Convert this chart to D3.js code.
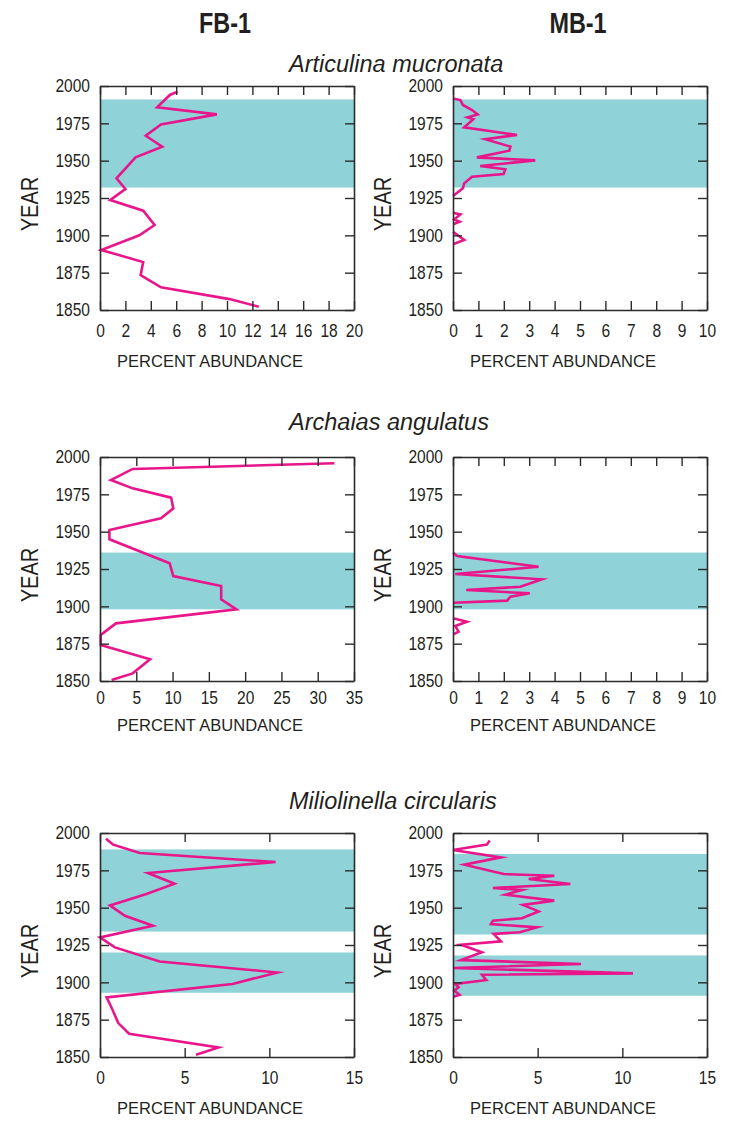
<!DOCTYPE html>
<html>
<head>
<meta charset="utf-8">
<script src="https://cdn.jsdelivr.net/npm/d3@7"></script>
<style>
  html, body { margin: 0; padding: 0; background: #fff; }
  svg { display: block; }
  .tick text { font-family: "Liberation Sans", Arial, sans-serif; font-size: 18.5px; fill: #231f20; }
</style>
</head>
<body>
<svg id="chart" width="729" height="1121"></svg>
<script>
// ---------------- DATA ----------------
const columnTitles = ["FB-1", "MB-1"];
const speciesNames = ["Articulina mucronata", "Archaias angulatus", "Miliolinella circularis"];
const yearTicks = [1850, 1875, 1900, 1925, 1950, 1975, 2000];
const xLabel = "PERCENT ABUNDANCE";
const yLabel = "YEAR";

// Articulina mucronata, FB-1
const fb1ArtYears = [1996.2, 1994, 1985.7, 1981, 1974.3, 1966.7, 1959.4, 1952.2, 1938.2, 1931, 1923.6, 1916.5, 1906.9, 1900, 1890.2, 1882.1, 1873.4, 1865.2, 1857.3, 1852.2];
const fb1ArtPct   = [6.1, 5.5, 4.5, 9.2, 4.8, 3.6, 4.9, 2.8, 1.3, 2.0, 0.8, 3.4, 4.3, 3.1, 0.1, 3.4, 3.2, 4.8, 10.2, 12.5];
const fb1ArtBands = [[1932, 1991]];
const fb1ArtTicks = [0, 2, 4, 6, 8, 10, 12, 14, 16, 18, 20];

// Articulina mucronata, MB-1 (null = gap)
const mb1ArtYears = [1991.7, 1990.6, 1987.3, 1983.9, 1981, 1979, 1977.7, 1972.3, 1967.2, 1964.3, 1959.4, 1956.7, 1952.2, 1950.2, 1946.4, 1944.2, 1941.1, 1939.3, 1934.8, 1931.5, 1926.3, null, 1915.1, 1914, 1910.7, 1909.1, 1907.6, null, 1902.4, 1896.9, 1894.2];
const mb1ArtPct   = [0, 0.29, 0.39, 0.75, 0.97, 0.57, 0.8, 0.44, 2.52, 1.27, 2.26, 2.22, 0.94, 3.24, 1.07, 2.06, 1.99, 0.75, 0.44, 0.39, 0, null, 0, 0.29, 0.05, 0.26, 0.03, null, 0, 0.44, 0.02];
const mb1ArtBands = [[1932, 1991]];
const mb1ArtTicks = [0, 1, 2, 3, 4, 5, 6, 7, 8, 9, 10];

// Archaias angulatus, FB-1
const fb1ArcYears = [1995.8, 1992, 1984.6, 1979, 1972.8, 1965.6, 1958.9, 1951.1, 1944.9, 1928.8, 1920.3, 1913.6, 1904.7, 1898, 1888.6, 1880.8, 1874.1, 1864.5, 1855.1, 1850.6];
const fb1ArcPct   = [32.3, 4.5, 1.5, 4.5, 9.8, 10.1, 8.4, 1.3, 1.3, 9.6, 10.1, 16.7, 16.7, 18.8, 2.2, 0.1, 0.1, 6.9, 4.5, 1.6];
const fb1ArcBands = [[1898, 1936]];
const fb1ArcTicks = [0, 5, 10, 15, 20, 25, 30, 35];

// Archaias angulatus, MB-1
const mb1ArcYears = [1935.9, 1933.7, 1926.5, 1921.6, 1918.1, 1913.1, 1910.9, 1908.7, 1906.4, 1903.8, 1902.4, null, 1892, 1889.7, 1886.8, 1883, 1881.4];
const mb1ArcPct   = [0, 0.16, 3.37, 0.09, 3.5, 2.65, 0.52, 3.02, 2.26, 2.13, 0, null, 0, 0.55, 0.09, 0.22, 0.03];
const mb1ArcBands = [[1898, 1936]];
const mb1ArcTicks = [0, 1, 2, 3, 4, 5, 6, 7, 8, 9, 10];

// Miliolinella circularis, FB-1
const fb1MilYears = [1996.2, 1992.2, 1986.6, 1980.6, 1973.2, 1966, 1959.1, 1951.5, 1944.6, 1937.9, 1930.1, 1923.4, 1914, 1906.6, 1898.9, 1889.9, 1881.6, 1872.7, 1865.6, 1856.4, 1851.5];
const fb1MilPct   = [0.35, 0.78, 2.35, 10.37, 2.84, 4.4, 2.74, 0.59, 1.47, 3.13, 0, 0.88, 3.52, 10.47, 7.83, 0.39, 0.74, 1.08, 1.72, 7.0, 5.67];
const fb1MilBands = [[1934, 1989], [1893, 1920]];
const fb1MilTicks = [0, 5, 10, 15];

// Miliolinella circularis, MB-1
const mb1MilYears = [1994.9, 1992.2, 1988.6, 1983.7, 1978.8, 1972.5, 1971.4, 1969.2, 1965.8, 1963.2, 1961.8, 1958.7, 1954.7, 1951.8, 1947.5, 1942.9, 1941.3, 1939, 1936.8, 1933.5, 1932.4, 1927.4, 1925.2, 1920.1, 1914.9, 1912.3, 1909.6, 1906, 1905.1, 1901.5, 1898.9, 1896.7, 1894.4, 1891.7, 1890.4];
const mb1MilPct   = [2.17, 2.0, 0, 2.83, 0.67, 2.99, 5.98, 4.47, 6.93, 2.36, 4.07, 3.09, 5.98, 4.13, 5.06, 4.07, 2.36, 2.24, 4.96, 3.94, 2.4, 2.83, 0.47, 1.71, 0.47, 7.56, 0, 10.63, 1.71, 1.97, 0.14, 0.33, 0.08, 0.39, 0.04];
const mb1MilBands = [[1932, 1986], [1891, 1918]];
const mb1MilTicks = [0, 5, 10, 15];

// ---------------- LAYOUT ----------------
const colLeft = [100, 453];
const rowTop = [86, 457, 833];
const plotW = 254, plotH = 224;
const titleBaseline = [72, 430, 809];
const titleX = 289;
const xTickPad = [14, 10, 14];
const xTitleOff = [56.5, 50, 56.5];

const TEXT = "#231f20";
const AXIS = "#2b2b2b";
const TEAL = "#8fd3d8";
const PINK = "#e8168a";
const SANS = '"Liberation Sans", Arial, sans-serif';

// horizontally condense text to imitate a condensed typeface
function condense(sel, f) {
  sel.each(function () {
    const w = this.getComputedTextLength();
    d3.select(this).attr("textLength", w * f).attr("lengthAdjust", "spacingAndGlyphs");
  });
}

const panels = [
  { row: 0, col: 0, years: fb1ArtYears, pct: fb1ArtPct, bands: fb1ArtBands, ticks: fb1ArtTicks },
  { row: 0, col: 1, years: mb1ArtYears, pct: mb1ArtPct, bands: mb1ArtBands, ticks: mb1ArtTicks },
  { row: 1, col: 0, years: fb1ArcYears, pct: fb1ArcPct, bands: fb1ArcBands, ticks: fb1ArcTicks },
  { row: 1, col: 1, years: mb1ArcYears, pct: mb1ArcPct, bands: mb1ArcBands, ticks: mb1ArcTicks },
  { row: 2, col: 0, years: fb1MilYears, pct: fb1MilPct, bands: fb1MilBands, ticks: fb1MilTicks },
  { row: 2, col: 1, years: mb1MilYears, pct: mb1MilPct, bands: mb1MilBands, ticks: mb1MilTicks }
];

const svg = d3.select("#chart");

// column headers
columnTitles.forEach((t, i) => {
  svg.append("text")
    .attr("x", colLeft[i] + plotW / 2 - 2)
    .attr("y", 33)
    .attr("text-anchor", "middle")
    .style("font-family", SANS)
    .style("font-weight", "bold")
    .style("font-size", "30px")
    .style("fill", TEXT)
    .text(t)
    .call(condense, 0.78);
});

// species titles
speciesNames.forEach((s, i) => {
  svg.append("text")
    .attr("x", titleX)
    .attr("y", titleBaseline[i])
    .style("font-family", SANS)
    .style("font-style", "italic")
    .style("font-size", "23.5px")
    .style("fill", TEXT)
    .text(s);
});

panels.forEach(p => {
  const x0 = colLeft[p.col], y0 = rowTop[p.row];
  const g = svg.append("g").attr("transform", `translate(${x0},${y0})`);
  const xs = d3.scaleLinear().domain([p.ticks[0], p.ticks[p.ticks.length - 1]]).range([0, plotW]);
  const ys = d3.scaleLinear().domain([1850, 2000]).range([plotH, 0]);

  // shaded bands
  g.selectAll("rect.band").data(p.bands).join("rect")
    .attr("class", "band")
    .attr("x", 0.5)
    .attr("width", plotW - 0.5)
    .attr("y", d => ys(d[1]))
    .attr("height", d => ys(d[0]) - ys(d[1]))
    .attr("fill", TEAL);

  // line
  const pts = p.years.map((y, i) => ({ year: y, v: p.pct[i] }));
  const line = d3.line()
    .defined(d => d.year !== null && d.v !== null)
    .x(d => xs(d.v))
    .y(d => ys(d.year));
  g.append("path")
    .datum(pts)
    .attr("d", line)
    .attr("fill", "none")
    .attr("stroke", PINK)
    .attr("stroke-width", 2.6)
    .attr("stroke-linejoin", "miter")
    .attr("stroke-miterlimit", 6);

  // axes
  const tickLen = -9;
  const axB = d3.axisBottom(xs).tickValues(p.ticks).tickSizeInner(tickLen).tickSizeOuter(0).tickPadding(xTickPad[p.row]).tickFormat(d3.format("d"));
  const axT = d3.axisTop(xs).tickValues(p.ticks).tickSizeInner(tickLen).tickSizeOuter(0).tickFormat("");
  const axL = d3.axisLeft(ys).tickValues(yearTicks).tickSizeInner(tickLen).tickSizeOuter(0).tickPadding(10).tickFormat(d3.format("d"));
  const axR = d3.axisRight(ys).tickValues(yearTicks).tickSizeInner(tickLen).tickSizeOuter(0).tickFormat("");

  const gb = g.append("g").attr("transform", `translate(0,${plotH})`).call(axB);
  const gt = g.append("g").call(axT);
  const gl = g.append("g").call(axL);
  const gr = g.append("g").attr("transform", `translate(${plotW},0)`).call(axR);
  [gb, gt, gl, gr].forEach(a => {
    a.select(".domain").attr("stroke", AXIS).attr("stroke-width", 1.6);
    a.selectAll(".tick line").attr("stroke", AXIS).attr("stroke-width", 1.4);
  });
  gb.selectAll(".tick text").call(condense, 0.84);
  gl.selectAll(".tick text").call(condense, 0.84);

  // axis titles
  g.append("text")
    .attr("x", plotW / 2 - 17)
    .attr("y", plotH + xTitleOff[p.row])
    .attr("text-anchor", "middle")
    .style("font-family", SANS)
    .style("font-size", "16.5px")
    .style("fill", TEXT)
    .text(xLabel);

  g.append("text")
    .attr("transform", `translate(-62,${plotH / 2 + 6}) rotate(-90)`)
    .attr("text-anchor", "middle")
    .style("font-family", SANS)
    .style("font-size", "24.5px")
    .style("fill", TEXT)
    .text(yLabel)
    .call(condense, 0.82);
});
</script>
</body>
</html>
